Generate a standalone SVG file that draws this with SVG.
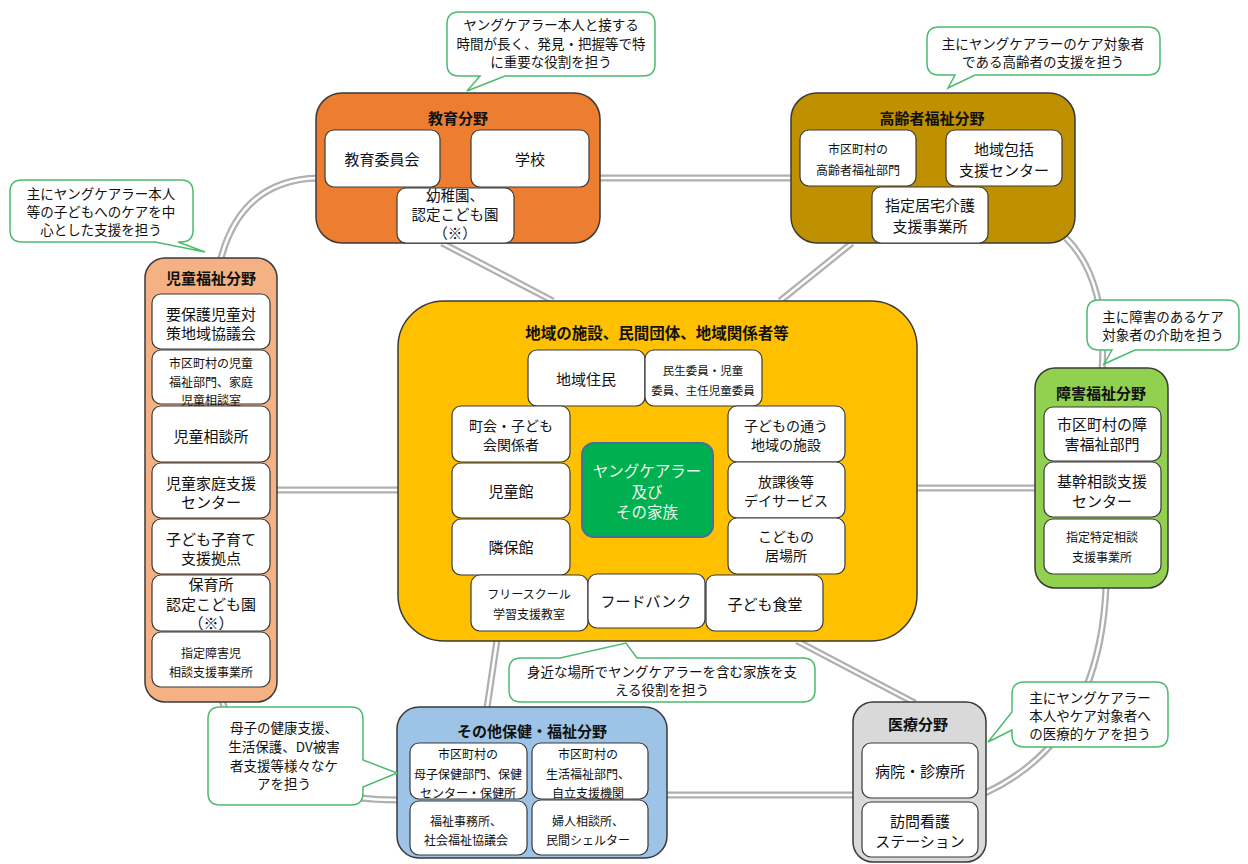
<svg xmlns="http://www.w3.org/2000/svg" width="1248" height="864" viewBox="0 0 1248 864">
<style>
text{font-family:"Noto Sans CJK JP","Noto Sans CJK SC",sans-serif;fill:#111;text-anchor:middle;dominant-baseline:central}
.t{font-size:15px;font-weight:bold}
.m{font-size:15px}
.s{font-size:12px}
.b{font-size:13.5px}
.c1{fill:none;stroke:#b0b0b0;stroke-width:7}
.c2{fill:none;stroke:#fff;stroke-width:2.5}
.o{stroke:#3a3a3a;stroke-width:1.5}
.in{fill:#fff;stroke:#3a3a3a;stroke-width:1.2}
.bub{fill:#fff;stroke:#4cbb6c;stroke-width:1.5}
</style>
<rect width="1248" height="864" fill="#fff"/>
<defs>
<g id="conn">
<path d="M318,178 Q240,180 220,262"/>
<path d="M598,178 H793"/>
<path d="M1066,238 Q1108,280 1102,370"/>
<path d="M1106,586 Q1100,740 985,793"/>
<path d="M855,795 H665"/>
<path d="M399,800 Q250,800 222,700"/>
<path d="M276,490 H400"/>
<path d="M915,488 H1037"/>
<path d="M442,243 L553,301"/>
<path d="M852,243 L780,301"/>
<path d="M497,640 L487,708"/>
<path d="M797,641 L915,703"/>
</g>
</defs>
<g id="connectors">
<use href="#conn" class="c1"/>
<use href="#conn" class="c2"/>
</g>

<g id="education">
<rect class="o" x="316" y="93" width="284" height="150" rx="26" fill="#ed7d31"/>
<text class="t" x="458" y="117">教育分野</text>
<rect class="in" x="325" y="130" width="115" height="57" rx="9"/>
<text class="m" x="382" y="158">教育委員会</text>
<rect class="in" x="471" y="130" width="118" height="57" rx="9"/>
<text class="m" x="530" y="158">学校</text>
<rect class="in" x="397" y="188" width="117" height="55" rx="9"/>
<text class="m" x="455" y="194" style="font-size:14.5px">幼稚園、</text>
<text class="m" x="455" y="213" style="font-size:14.5px">認定こども園</text>
<text class="m" x="455" y="232" style="font-size:14.5px">（※）</text>
</g>

<g id="elderly">
<rect class="o" x="791" y="93" width="284" height="150" rx="26" fill="#bf9000"/>
<text class="t" x="932" y="117">高齢者福祉分野</text>
<rect class="in" x="800" y="130" width="116" height="56" rx="9"/>
<text class="s" x="858" y="148">市区町村の</text>
<text class="s" x="858" y="169">高齢者福祉部門</text>
<rect class="in" x="946" y="130" width="116" height="56" rx="9"/>
<text class="m" x="1004" y="148">地域包括</text>
<text class="m" x="1004" y="169">支援センター</text>
<rect class="in" x="872" y="187" width="116" height="56" rx="9"/>
<text class="m" x="930" y="204">指定居宅介護</text>
<text class="m" x="930" y="225">支援事業所</text>
</g>

<g id="child">
<rect class="o" x="145" y="258" width="132" height="444" rx="20" fill="#f4b183"/>
<text class="t" x="211" y="277">児童福祉分野</text>
<rect class="in" x="152" y="294" width="118" height="55" rx="9"/>
<text class="m" x="211" y="313">要保護児童対</text>
<text class="m" x="211" y="332">策地域協議会</text>
<rect class="in" x="152" y="350" width="118" height="54" rx="9"/>
<text class="s" x="211" y="362">市区町村の児童</text>
<text class="s" x="211" y="381">福祉部門、家庭</text>
<text class="s" x="211" y="399">児童相談室</text>
<rect class="in" x="152" y="406" width="118" height="56" rx="9"/>
<text class="m" x="211" y="435">児童相談所</text>
<rect class="in" x="152" y="463" width="118" height="55" rx="9"/>
<text class="m" x="211" y="482">児童家庭支援</text>
<text class="m" x="211" y="501">センター</text>
<rect class="in" x="152" y="519" width="118" height="55" rx="9"/>
<text class="m" x="211" y="538">子ども子育て</text>
<text class="m" x="211" y="557">支援拠点</text>
<rect class="in" x="152" y="575" width="118" height="56" rx="9"/>
<text class="m" x="211" y="583">保育所</text>
<text class="m" x="211" y="603">認定こども園</text>
<text class="m" x="211" y="622">（※）</text>
<rect class="in" x="152" y="632" width="118" height="55" rx="9"/>
<text class="s" x="211" y="652">指定障害児</text>
<text class="s" x="211" y="671">相談支援事業所</text>
</g>

<g id="community">
<rect class="o" x="398" y="301" width="519" height="340" rx="46" fill="#ffc000"/>
<text class="t" x="657" y="332" style="font-size:15.5px">地域の施設、民間団体、地域関係者等</text>
<rect class="in" x="528" y="350" width="117" height="56" rx="9"/>
<text class="m" x="586" y="378">地域住民</text>
<rect class="in" x="645" y="350" width="117" height="56" rx="9"/>
<text class="s" x="703" y="370" style="font-size:11.5px">民生委員・児童</text>
<text class="s" x="703" y="390" style="font-size:11.5px">委員、主任児童委員</text>
<rect class="in" x="452" y="406" width="118" height="56" rx="9"/>
<text class="m" x="511" y="425" style="font-size:14px">町会・子ども</text>
<text class="m" x="511" y="444" style="font-size:14px">会関係者</text>
<rect class="in" x="452" y="463" width="118" height="55" rx="9"/>
<text class="m" x="511" y="490">児童館</text>
<rect class="in" x="452" y="519" width="118" height="56" rx="9"/>
<text class="m" x="511" y="546">隣保館</text>
<rect class="in" x="728" y="406" width="117" height="56" rx="9"/>
<text class="m" x="786" y="425" style="font-size:14px">子どもの通う</text>
<text class="m" x="786" y="444" style="font-size:14px">地域の施設</text>
<rect class="in" x="728" y="462" width="117" height="56" rx="9"/>
<text class="m" x="786" y="481" style="font-size:14px">放課後等</text>
<text class="m" x="786" y="500" style="font-size:14px">デイサービス</text>
<rect class="in" x="728" y="518" width="117" height="56" rx="9"/>
<text class="m" x="786" y="536" style="font-size:14px">こどもの</text>
<text class="m" x="786" y="555" style="font-size:14px">居場所</text>
<rect class="in" x="471" y="575" width="117" height="56" rx="9"/>
<text class="s" x="529" y="593">フリースクール</text>
<text class="s" x="529" y="613">学習支援教室</text>
<rect class="in" x="588" y="574" width="117" height="54" rx="9"/>
<text class="m" x="646" y="600">フードバンク</text>
<rect class="in" x="706" y="575" width="117" height="56" rx="9"/>
<text class="m" x="765" y="603">子ども食堂</text>
</g>

<g id="youngcarer">
<rect x="582" y="443" width="131" height="94" rx="12" fill="#00b050" stroke="#41719c" stroke-width="2"/>
<text x="647" y="470" style="font-size:15.5px;fill:#eef6ee">ヤングケアラー</text>
<text x="647" y="491" style="font-size:15.5px;fill:#eef6ee">及び</text>
<text x="647" y="511" style="font-size:15.5px;fill:#eef6ee">その家族</text>
</g>

<g id="disability">
<rect class="o" x="1035" y="368" width="133" height="220" rx="20" fill="#92d050"/>
<text class="t" x="1101" y="392">障害福祉分野</text>
<rect class="in" x="1044" y="407" width="117" height="54" rx="9"/>
<text class="m" x="1102" y="423">市区町村の障</text>
<text class="m" x="1102" y="443">害福祉部門</text>
<rect class="in" x="1044" y="462" width="117" height="55" rx="9"/>
<text class="m" x="1102" y="480">基幹相談支援</text>
<text class="m" x="1102" y="500">センター</text>
<rect class="in" x="1044" y="519" width="117" height="55" rx="9"/>
<text class="s" x="1102" y="536">指定特定相談</text>
<text class="s" x="1102" y="556">支援事業所</text>
</g>

<g id="otherhealth">
<rect class="o" x="397" y="707" width="270" height="151" rx="22" fill="#9dc3e6"/>
<text class="t" x="532" y="730">その他保健・福祉分野</text>
<rect class="in" x="410" y="743" width="117" height="56" rx="9"/>
<text class="s" x="468" y="753">市区町村の</text>
<text class="s" x="468" y="773">母子保健部門、保健</text>
<text class="s" x="468" y="792">センター・保健所</text>
<rect class="in" x="532" y="743" width="116" height="56" rx="9"/>
<text class="s" x="588" y="753">市区町村の</text>
<text class="s" x="588" y="773">生活福祉部門、</text>
<text class="s" x="588" y="792">自立支援機関</text>
<rect class="in" x="410" y="801" width="117" height="54" rx="9"/>
<text class="s" x="466" y="820">福祉事務所、</text>
<text class="s" x="466" y="839">社会福祉協議会</text>
<rect class="in" x="532" y="800" width="116" height="55" rx="9"/>
<text class="s" x="588" y="820">婦人相談所、</text>
<text class="s" x="588" y="839">民間シェルター</text>
</g>

<g id="medical">
<rect class="o" x="853" y="702" width="133" height="160" rx="20" fill="#d9d9d9"/>
<text class="t" x="918" y="723">医療分野</text>
<rect class="in" x="862" y="743" width="116" height="55" rx="9"/>
<text class="m" x="920" y="770">病院・診療所</text>
<rect class="in" x="862" y="802" width="116" height="55" rx="9"/>
<text class="m" x="920" y="820">訪問看護</text>
<text class="m" x="920" y="840">ステーション</text>
</g>

<g id="bubble-education">
<path class="bub" d="M459,12 H643 Q655,12 655,24 V64 Q655,76 643,76 H505 L467,91 L480,76 H459 Q447,76 447,64 V24 Q447,12 459,12 Z"/>
<text class="b" x="551" y="24">ヤングケアラー本人と接する</text>
<text class="b" x="551" y="43">時間が長く、発見・把握等で特</text>
<text class="b" x="551" y="61">に重要な役割を担う</text>
</g>
<g id="bubble-elderly">
<path class="bub" d="M939,27 H1148 Q1160,27 1160,39 V63 Q1160,75 1148,75 H975 L948,88 L955,75 H939 Q927,75 927,63 V39 Q927,27 939,27 Z"/>
<text class="b" x="1043" y="43">主にヤングケアラーのケア対象者</text>
<text class="b" x="1043" y="61">である高齢者の支援を担う</text>
</g>
<g id="bubble-child">
<path class="bub" d="M22,180 H181 Q193,180 193,192 V230 Q193,242 181,242 H178 L205,252 L155,242 H22 Q10,242 10,230 V192 Q10,180 22,180 Z"/>
<text class="b" x="101" y="193">主にヤングケアラー本人</text>
<text class="b" x="101" y="211">等の子どもへのケアを中</text>
<text class="b" x="101" y="229">心とした支援を担う</text>
</g>
<g id="bubble-disability">
<path class="bub" d="M1099,300 H1227 Q1239,300 1239,312 V338 Q1239,350 1227,350 H1135 L1104,364 L1112,350 H1099 Q1087,350 1087,338 V312 Q1087,300 1099,300 Z"/>
<text class="b" x="1163" y="316">主に障害のあるケア</text>
<text class="b" x="1163" y="334">対象者の介助を担う</text>
</g>
<g id="bubble-community">
<path class="bub" d="M521,658 H560 L626,643 L637,658 H803 Q815,658 815,670 V690 Q815,702 803,702 H521 Q509,702 509,690 V670 Q509,658 521,658 Z"/>
<text class="b" x="662" y="671">身近な場所でヤングケアラーを含む家族を支</text>
<text class="b" x="662" y="689">える役割を担う</text>
</g>
<g id="bubble-other">
<path class="bub" d="M220,707 H351 Q363,707 363,719 V760 L397,773 L363,787 V793 Q363,805 351,805 H220 Q208,805 208,793 V719 Q208,707 220,707 Z"/>
<text class="b" x="284" y="727">母子の健康支援、</text>
<text class="b" x="284" y="746">生活保護、DV被害</text>
<text class="b" x="284" y="765">者支援等様々なケ</text>
<text class="b" x="284" y="783">アを担う</text>
</g>
<g id="bubble-medical">
<path class="bub" d="M1024,682 H1156 Q1168,682 1168,694 V735 Q1168,747 1156,747 H1024 Q1012,747 1012,735 V730 L988,742 L1012,712 V694 Q1012,682 1024,682 Z"/>
<text class="b" x="1090" y="697">主にヤングケアラー</text>
<text class="b" x="1090" y="715">本人やケア対象者へ</text>
<text class="b" x="1090" y="733">の医療的ケアを担う</text>
</g>
</svg>
